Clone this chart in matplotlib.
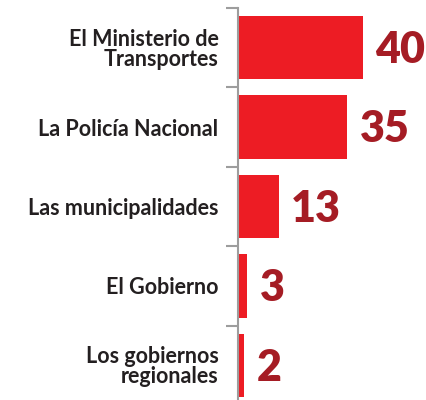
import matplotlib.pyplot as plt

categories = ['El Ministerio de\nTransportes', 'La Policía Nacional', 'Las municipalidades',
              'El Gobierno', 'Los gobiernos\nregionales']
values = [40, 35, 13, 3, 2]

bar_color = '#ed1c24'
value_color = '#a51c24'

fig = plt.figure(figsize=(4.27, 4.0), dpi=100)
W, H = 427, 400
ax = fig.add_axes([238 / W, 0, 1 - 238 / W, (400 - 8) / H])

pos = list(range(len(categories)))
ax.barh(pos, values, height=0.8, color=bar_color, zorder=2)

ax.set_xlim(0, (W - 238) / 3.125)
ax.set_ylim(-0.5 + (400 - 8) / 79.4, -0.5)

# separator ticks on the left
ax.set_yticks([p - 0.5 for p in pos])
ax.set_yticklabels([])
ax.tick_params(axis='y', which='major', length=9, width=1.5, color='#9d9d9d')
# category labels as minor ticks
ax.set_yticks(pos, minor=True)
ax.set_yticklabels(categories, minor=True, fontfamily='Lato', fontweight='bold',
                   fontsize=15.5, color='#231f20', linespacing=0.95, ha='right')
ax.tick_params(axis='y', which='minor', length=0, pad=14)

ax.set_xticks([])
for s in ['top', 'right', 'bottom']:
    ax.spines[s].set_visible(False)
ax.spines['left'].set_color('#9d9d9d')
ax.spines['left'].set_linewidth(1.5)

for p, v in zip(pos, values):
    ax.text(v + 3.9, p + 0.03, str(v), va='center', ha='left', fontfamily='Lato',
            fontweight='heavy', fontsize=31, color=value_color)

fig.savefig('out.png', dpi=100)
